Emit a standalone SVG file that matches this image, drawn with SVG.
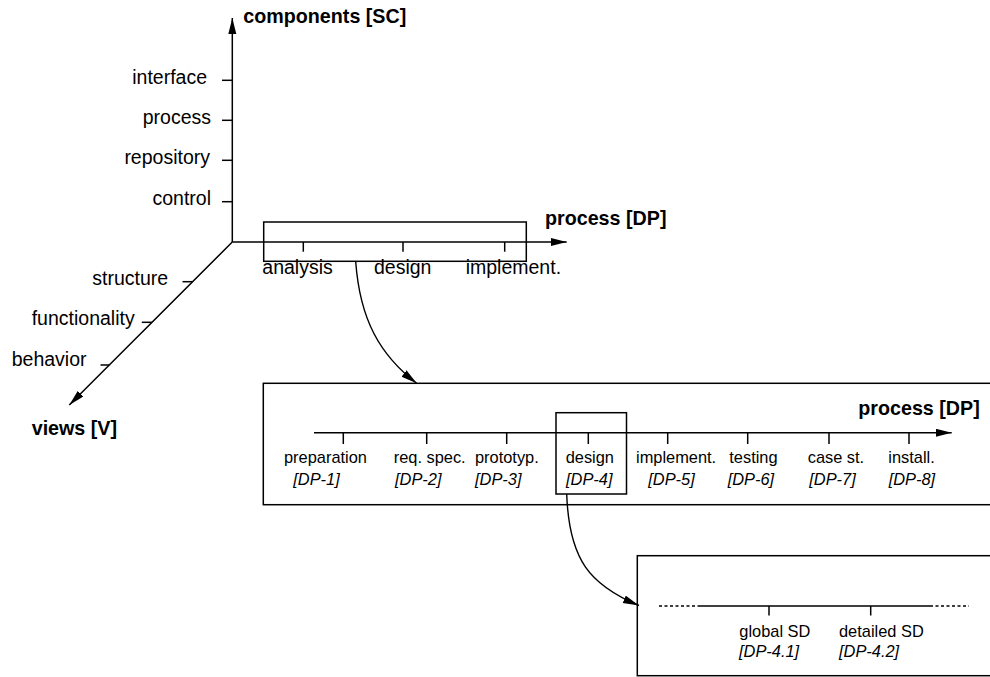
<svg xmlns="http://www.w3.org/2000/svg" width="990" height="677" viewBox="0 0 990 677">
  <style>
    text { font-family: "Liberation Sans", Arial, sans-serif; fill: #000; }
    .lbl { font-size: 19.5px; }
    .sm { font-size: 16.4px; }
    .it { font-size: 16.4px; font-style: italic; }
    .ttl { font-size: 19.7px; font-weight: bold; }
    .ax { stroke: #000; stroke-width: 1.5; fill: none; }
    .tk { stroke: #000; stroke-width: 1.5; fill: none; }
    .box { stroke: #000; stroke-width: 1.5; fill: none; }
    .dot { stroke: #000; stroke-width: 1.5; fill: none; stroke-dasharray: 3 2.5; }
    .cv { stroke: #000; stroke-width: 1.4; fill: none; }
  </style>
  <defs>
    <marker id="arr" markerUnits="userSpaceOnUse" markerWidth="17" markerHeight="9" refX="16" refY="4" orient="auto">
      <path d="M0,0 L16,4 L0,8 z" fill="#000"/>
    </marker>
  </defs>

  <rect width="990" height="677" fill="#fff"/>

  <!-- 3D coordinate system: components / process / views -->
  <g id="axes">
    <line class="ax" x1="232.3" y1="242" x2="232.3" y2="18" marker-end="url(#arr)"/>
    <line class="ax" x1="232.3" y1="242" x2="566.7" y2="242" marker-end="url(#arr)"/>
    <line class="ax" x1="232.3" y1="242" x2="69.3" y2="405" marker-end="url(#arr)"/>
    <text class="ttl" x="243.3" y="23.3">components [SC]</text>
    <text class="ttl" x="545" y="225">process [DP]</text>
    <text class="ttl" x="31.7" y="434.5">views [V]</text>
  </g>

  <!-- component ticks -->
  <g id="components">
    <line class="tk" x1="222" y1="80.3" x2="232.3" y2="80.3"/>
    <line class="tk" x1="222" y1="120.3" x2="232.3" y2="120.3"/>
    <line class="tk" x1="222" y1="160.3" x2="232.3" y2="160.3"/>
    <line class="tk" x1="222" y1="201.7" x2="232.3" y2="201.7"/>
    <text class="lbl" x="207" y="83.5" text-anchor="end">interface</text>
    <text class="lbl" x="211" y="124" text-anchor="end">process</text>
    <text class="lbl" x="210" y="163.8" text-anchor="end">repository</text>
    <text class="lbl" x="211" y="205.2" text-anchor="end">control</text>
  </g>

  <!-- view ticks -->
  <g id="views">
    <line class="tk" x1="182.5" y1="281.7" x2="192.3" y2="281.7"/>
    <line class="tk" x1="141.8" y1="322.3" x2="151.7" y2="322.3"/>
    <line class="tk" x1="100.5" y1="365" x2="109.3" y2="365"/>
    <text class="lbl" x="92.3" y="284.5">structure</text>
    <text class="lbl" x="31.7" y="324.5">functionality</text>
    <text class="lbl" x="11.7" y="365.5">behavior</text>
  </g>

  <!-- coarse process phases -->
  <g id="process-coarse">
    <rect class="box" x="263.7" y="222" width="262.6" height="39.3"/>
    <line class="tk" x1="303.3" y1="242" x2="303.3" y2="251.7"/>
    <line class="tk" x1="403" y1="242" x2="403" y2="251.7"/>
    <line class="tk" x1="504.7" y1="242" x2="504.7" y2="251.7"/>
    <text class="lbl" x="262.3" y="274">analysis</text>
    <text class="lbl" x="374" y="274">design</text>
    <text class="lbl" x="465.7" y="274">implement.</text>
  </g>

  <!-- detailed process phases -->
  <g id="process-detail">
    <rect class="box" x="263.3" y="383.3" width="740" height="121.4"/>
    <line class="ax" x1="314" y1="432.7" x2="951.7" y2="432.7" marker-end="url(#arr)"/>
    <text class="ttl" x="858.3" y="414.5">process [DP]</text>
    <line class="tk" x1="343.3" y1="432.7" x2="343.3" y2="444"/>
    <line class="tk" x1="426.7" y1="432.7" x2="426.7" y2="444"/>
    <line class="tk" x1="506.7" y1="432.7" x2="506.7" y2="444"/>
    <line class="tk" x1="588.3" y1="432.7" x2="588.3" y2="444"/>
    <line class="tk" x1="667.7" y1="432.7" x2="667.7" y2="444"/>
    <line class="tk" x1="747.7" y1="432.7" x2="747.7" y2="444"/>
    <line class="tk" x1="829" y1="432.7" x2="829" y2="444"/>
    <line class="tk" x1="909" y1="432.7" x2="909" y2="444"/>
    <text class="sm" x="284" y="462.7">preparation</text>
    <text class="sm" x="393.7" y="462.7">req. spec.</text>
    <text class="sm" x="475" y="462.7">prototyp.</text>
    <text class="sm" x="565.7" y="462.7">design</text>
    <text class="sm" x="636" y="462.7">implement.</text>
    <text class="sm" x="729.3" y="462.7">testing</text>
    <text class="sm" x="807.7" y="462.7">case st.</text>
    <text class="sm" x="888.3" y="462.7">install.</text>
    <text class="it" x="293.3" y="485">[DP-1]</text>
    <text class="it" x="395" y="485">[DP-2]</text>
    <text class="it" x="475" y="485">[DP-3]</text>
    <text class="it" x="566" y="485">[DP-4]</text>
    <text class="it" x="648.3" y="485">[DP-5]</text>
    <text class="it" x="727.7" y="485">[DP-6]</text>
    <text class="it" x="809.3" y="485">[DP-7]</text>
    <text class="it" x="888.7" y="485">[DP-8]</text>
  </g>

  <!-- highlight around the design phase -->
  <g id="design-focus">
    <rect class="box" x="556" y="412.7" width="70.5" height="81.3"/>
  </g>

  <!-- design sub-phases -->
  <g id="design-detail">
    <rect class="box" x="637.3" y="555.7" width="366" height="120"/>
    <line class="dot" x1="659" y1="606" x2="700" y2="606"/>
    <line class="ax" x1="700" y1="606" x2="930" y2="606"/>
    <line class="dot" x1="930" y1="606" x2="969" y2="606"/>
    <line class="tk" x1="769" y1="606" x2="769" y2="615.5"/>
    <line class="tk" x1="870.7" y1="606" x2="870.7" y2="615.5"/>
    <text class="sm" x="739.3" y="636.7">global SD</text>
    <text class="sm" x="839" y="636.7">detailed SD</text>
    <text class="it" x="739" y="656.7">[DP-4.1]</text>
    <text class="it" x="839" y="656.7">[DP-4.2]</text>
  </g>

  <!-- zoom connectors -->
  <g id="connectors">
    <path class="cv" d="M355.7,261.7 C360,320 380,355 416.7,383.3" marker-end="url(#arr)"/>
    <path class="cv" d="M566.7,494 C569,560 590,585 639,605.5" marker-end="url(#arr)"/>
  </g>
</svg>
